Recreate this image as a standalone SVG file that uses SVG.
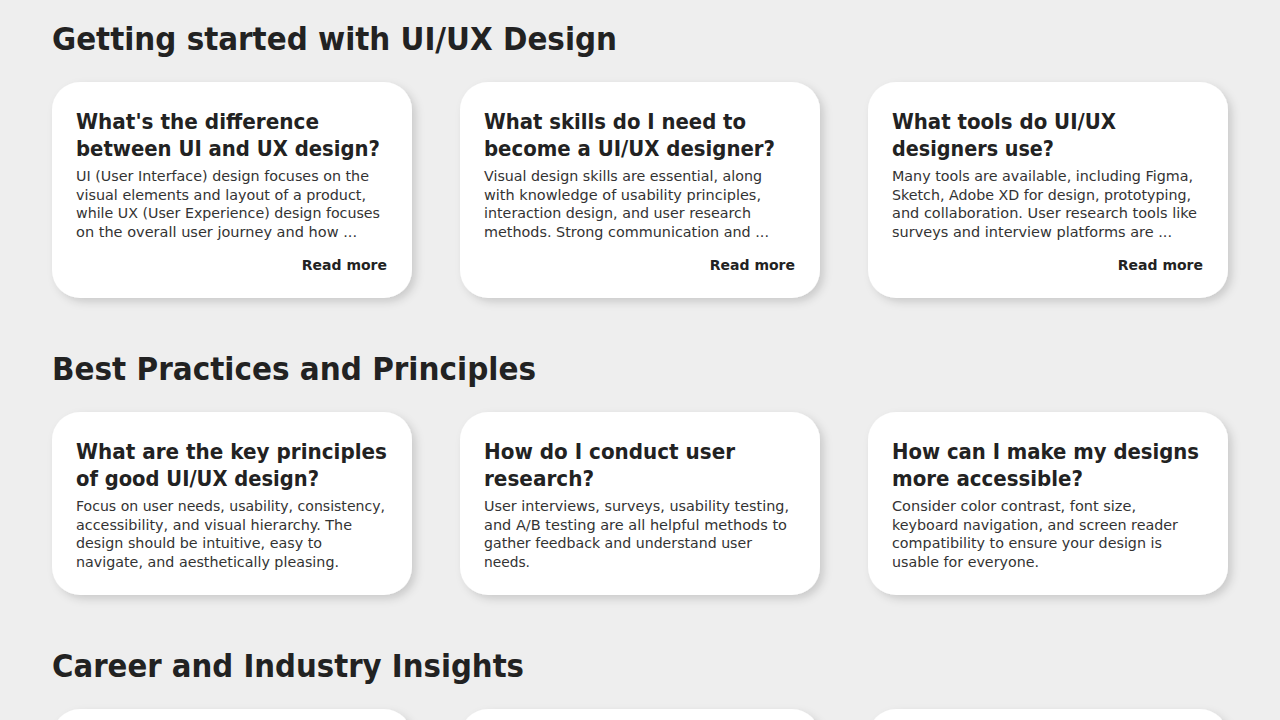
<svg xmlns="http://www.w3.org/2000/svg" width="1280" height="720" viewBox="0 0 1280 720">
<defs>
<filter id="sh" x="-10%" y="-10%" width="130%" height="130%"><feDropShadow dx="4" dy="4" stdDeviation="4" flood-color="#000" flood-opacity="0.15"/></filter>
<style>
text{font-family:"DejaVu Sans","Noto Sans",sans-serif;fill:#222}
.h{font-size:32px;font-weight:bold}
.t{font-size:22px;font-weight:bold}
.b{font-size:14px;fill:#333}
.r{font-size:14px;font-weight:bold;text-anchor:end}
.c{fill:#fff;filter:url(#sh)}
</style>
</defs>
<rect width="1280" height="720" fill="#eeeeee"/>
<text class="h" x="52" y="50" textLength="565" lengthAdjust="spacingAndGlyphs">Getting started with UI/UX Design</text>
<text class="h" x="52" y="380" textLength="484" lengthAdjust="spacingAndGlyphs">Best Practices and Principles</text>
<text class="h" x="52" y="677" textLength="472" lengthAdjust="spacingAndGlyphs">Career and Industry Insights</text>

<g id="card1"><rect class="c" x="52" y="82" width="360" height="216" rx="28"/>
<text class="t" x="76" y="129" textLength="243" lengthAdjust="spacingAndGlyphs">What's the difference</text>
<text class="t" x="76" y="156" textLength="304" lengthAdjust="spacingAndGlyphs">between UI and UX design?</text>
<text class="b" x="76" y="181" textLength="293" lengthAdjust="spacingAndGlyphs">UI (User Interface) design focuses on the</text>
<text class="b" x="76" y="200" textLength="290" lengthAdjust="spacingAndGlyphs">visual elements and layout of a product,</text>
<text class="b" x="76" y="218" textLength="304" lengthAdjust="spacingAndGlyphs">while UX (User Experience) design focuses</text>
<text class="b" x="76" y="237" textLength="281" lengthAdjust="spacingAndGlyphs">on the overall user journey and how ...</text>
<text class="r" x="387" y="270">Read more</text></g>

<g id="card2"><rect class="c" x="460" y="82" width="360" height="216" rx="28"/>
<text class="t" x="484" y="129" textLength="262" lengthAdjust="spacingAndGlyphs">What skills do I need to</text>
<text class="t" x="484" y="156" textLength="291" lengthAdjust="spacingAndGlyphs">become a UI/UX designer?</text>
<text class="b" x="484" y="181" textLength="278" lengthAdjust="spacingAndGlyphs">Visual design skills are essential, along</text>
<text class="b" x="484" y="200" textLength="277" lengthAdjust="spacingAndGlyphs">with knowledge of usability principles,</text>
<text class="b" x="484" y="218" textLength="267" lengthAdjust="spacingAndGlyphs">interaction design, and user research</text>
<text class="b" x="484" y="237" textLength="285" lengthAdjust="spacingAndGlyphs">methods. Strong communication and ...</text>
<text class="r" x="795" y="270">Read more</text></g>

<g id="card3"><rect class="c" x="868" y="82" width="360" height="216" rx="28"/>
<text class="t" x="892" y="129" textLength="224" lengthAdjust="spacingAndGlyphs">What tools do UI/UX</text>
<text class="t" x="892" y="156" textLength="162" lengthAdjust="spacingAndGlyphs">designers use?</text>
<text class="b" x="892" y="181" textLength="301" lengthAdjust="spacingAndGlyphs">Many tools are available, including Figma,</text>
<text class="b" x="892" y="200" textLength="299" lengthAdjust="spacingAndGlyphs">Sketch, Adobe XD for design, prototyping,</text>
<text class="b" x="892" y="218" textLength="305" lengthAdjust="spacingAndGlyphs">and collaboration. User research tools like</text>
<text class="b" x="892" y="237" textLength="280" lengthAdjust="spacingAndGlyphs">surveys and interview platforms are ...</text>
<text class="r" x="1203" y="270">Read more</text></g>

<g id="card4"><rect class="c" x="52" y="412" width="360" height="183" rx="28"/>
<text class="t" x="76" y="459" textLength="311" lengthAdjust="spacingAndGlyphs">What are the key principles</text>
<text class="t" x="76" y="486" textLength="243" lengthAdjust="spacingAndGlyphs">of good UI/UX design?</text>
<text class="b" x="76" y="511" textLength="309" lengthAdjust="spacingAndGlyphs">Focus on user needs, usability, consistency,</text>
<text class="b" x="76" y="530" textLength="276" lengthAdjust="spacingAndGlyphs">accessibility, and visual hierarchy. The</text>
<text class="b" x="76" y="548" textLength="246" lengthAdjust="spacingAndGlyphs">design should be intuitive, easy to</text>
<text class="b" x="76" y="567" textLength="263" lengthAdjust="spacingAndGlyphs">navigate, and aesthetically pleasing.</text></g>

<g id="card5"><rect class="c" x="460" y="412" width="360" height="183" rx="28"/>
<text class="t" x="484" y="459" textLength="251" lengthAdjust="spacingAndGlyphs">How do I conduct user</text>
<text class="t" x="484" y="486" textLength="110" lengthAdjust="spacingAndGlyphs">research?</text>
<text class="b" x="484" y="511" textLength="305" lengthAdjust="spacingAndGlyphs">User interviews, surveys, usability testing,</text>
<text class="b" x="484" y="530" textLength="303" lengthAdjust="spacingAndGlyphs">and A/B testing are all helpful methods to</text>
<text class="b" x="484" y="548" textLength="268" lengthAdjust="spacingAndGlyphs">gather feedback and understand user</text>
<text class="b" x="484" y="567" textLength="46" lengthAdjust="spacingAndGlyphs">needs.</text></g>

<g id="card6"><rect class="c" x="868" y="412" width="360" height="183" rx="28"/>
<text class="t" x="892" y="459" textLength="307" lengthAdjust="spacingAndGlyphs">How can I make my designs</text>
<text class="t" x="892" y="486" textLength="191" lengthAdjust="spacingAndGlyphs">more accessible?</text>
<text class="b" x="892" y="511" textLength="244" lengthAdjust="spacingAndGlyphs">Consider color contrast, font size,</text>
<text class="b" x="892" y="530" textLength="286" lengthAdjust="spacingAndGlyphs">keyboard navigation, and screen reader</text>
<text class="b" x="892" y="548" textLength="270" lengthAdjust="spacingAndGlyphs">compatibility to ensure your design is</text>
<text class="b" x="892" y="567" textLength="147" lengthAdjust="spacingAndGlyphs">usable for everyone.</text></g>

<g id="card7"><rect class="c" x="52" y="709" width="360" height="200" rx="28"/></g>
<g id="card8"><rect class="c" x="460" y="709" width="360" height="200" rx="28"/></g>
<g id="card9"><rect class="c" x="868" y="709" width="360" height="200" rx="28"/></g>
<g id="connectors"/>
</svg>
